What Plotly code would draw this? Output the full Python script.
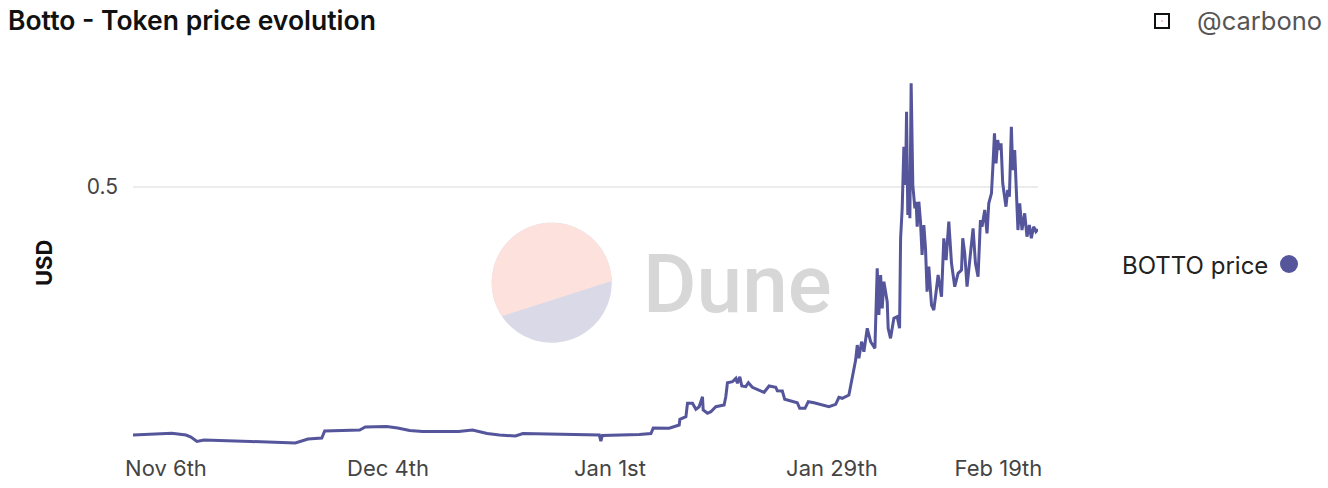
import numpy as np
import pandas as pd
import plotly.graph_objects as go

# ---------------- data ----------------
base_date = "2021-11-01"
day_offsets = [
    0.84, 3.46, 5.73, 7.52, 8.15, 8.90, 9.79, 15.68, 19.29, 21.32, 22.91, 24.65, 25.02,
    28.30, 29.43, 30.14, 32.83, 34.22, 35.73, 37.37, 41.90, 43.66, 45.51, 47.06, 49.08,
    50.02, 55.38, 59.66, 59.85, 60.04, 64.70, 66.17, 66.46,
    68.47, 69.73, 69.82, 70.58, 70.78, 71.41, 71.84, 72.25, 72.67, 72.76, 73.30, 73.73,
    74.35, 75.40, 75.61, 75.82, 76.45, 76.88, 77.08, 77.38, 77.63, 78.13, 78.46, 78.96,
    80.44, 81.07, 81.91, 82.11, 82.74, 83.04, 84.63, 84.93, 85.60, 86.02, 86.74, 88.62,
    89.47, 89.88, 90.30, 91.14,
    91.65, 91.99, 92.19, 92.40, 92.74, 93.03, 93.45, 93.88, 94.42, 94.71, 94.92, 95.14,
    95.34, 95.55, 95.97, 96.09, 96.39, 96.81, 97.23, 97.53, 97.66, 97.86, 98.07, 98.28,
    98.41, 98.57, 98.70, 98.83, 98.99, 99.20, 99.46, 99.62, 99.75, 99.96, 100.17, 100.37,
    100.59, 100.80, 101.00, 101.22, 101.56, 101.85, 102.14, 102.39, 102.82,
    103.11, 103.40, 103.74, 104.08, 104.49, 104.91, 105.34, 105.50, 105.75, 106.04, 106.47,
    106.80, 107.10, 107.43, 107.73, 107.93, 108.27, 108.56, 108.78, 109.12, 109.32, 109.50,
    109.70, 109.91, 110.12, 110.33, 110.54, 110.75, 110.95, 111.17, 111.38, 111.63, 111.80,
    112.05, 112.21, 112.46, 112.68, 112.97, 113.31, 113.60, 113.90, 114.15, 114.44, 114.73,
    114.99,
]
botto_price = [
    0.0618, 0.0641, 0.0648, 0.0618, 0.0583, 0.0504, 0.0530, 0.0504, 0.0495, 0.0477, 0.0548,
    0.0565, 0.0689, 0.0698, 0.0707, 0.0760, 0.0769, 0.0742, 0.0698, 0.0680, 0.0680, 0.0707,
    0.0645, 0.0618, 0.0601, 0.0645, 0.0627, 0.0618, 0.0512, 0.0610, 0.0627, 0.0645, 0.0742,
    0.0737, 0.0795, 0.0896, 0.0942, 0.1178, 0.1178, 0.1072, 0.1118, 0.1295, 0.1060, 0.1002,
    0.1030, 0.1118, 0.1148, 0.1295, 0.1542, 0.1560, 0.1620, 0.1532, 0.1648, 0.1484, 0.1472,
    0.1542, 0.1461, 0.1373, 0.1484, 0.1461, 0.1401, 0.1396, 0.1249, 0.1189, 0.1090, 0.1090,
    0.1207, 0.1189, 0.1118, 0.1161, 0.1284, 0.1267, 0.1325,
    0.1737, 0.1943, 0.2208, 0.1973, 0.2267, 0.2090, 0.2504, 0.2267, 0.2150, 0.3564, 0.2739,
    0.3445, 0.2857, 0.3327, 0.2974, 0.2504, 0.2327, 0.2680, 0.2709, 0.2504, 0.4094, 0.4624,
    0.5712, 0.5035, 0.6330, 0.4505, 0.5212, 0.4447, 0.6832, 0.5035, 0.4624, 0.4740, 0.4299,
    0.4740, 0.4387, 0.3799, 0.4329, 0.3917, 0.3150, 0.3592, 0.2915, 0.2827, 0.3150, 0.3445,
    0.3062,
    0.4094, 0.3710, 0.4387, 0.3652, 0.3239, 0.3475, 0.3534, 0.4094, 0.3829, 0.3239, 0.3829,
    0.4270, 0.3652, 0.3415, 0.4417, 0.4299, 0.4594, 0.4182, 0.4712, 0.4889, 0.5419, 0.5949,
    0.5419, 0.5830, 0.5654, 0.5772, 0.5065, 0.4829, 0.4652, 0.4947, 0.4829, 0.6065, 0.5300,
    0.5654, 0.5005, 0.4240, 0.4712, 0.4240, 0.4535, 0.4122, 0.4329, 0.4094, 0.4299, 0.4210,
    0.4253,
]
tick_dates = ["2021-11-06", "2021-12-04", "2022-01-01", "2022-01-29", "2022-02-19"]
tick_labels = ["Nov 6th", "Dec 4th", "Jan 1st", "Jan 29th", "Feb 19th"]
y_ticks = [0.5]
y_range = [0.0389, 0.7032]
series_name = "BOTTO price"

dates = pd.Timestamp(base_date) + pd.to_timedelta(day_offsets, unit="D")

# ---------------- layout geometry (page pixel frame) ----------------
W, H = 1328, 488
X0, X1, Y0, Y1 = 133, 1038, 72, 448     # plot area in page pixels
PW, PH = X1 - X0, Y1 - Y0
L, R, T, B = X0, W - X1, Y0, H - Y1
LINE = "#55559b"
FONT = "Inter"


def px(x):
    return (x - X0) / PW


def py(y):
    return (Y1 - y) / PH


fig = go.Figure()
fig.add_trace(go.Scatter(
    x=dates, y=botto_price, mode="lines", name=series_name,
    line=dict(color=LINE, width=3), showlegend=False,
))

shapes = []
# Dune watermark (circle split in two)
cx, cy, r = 551.7, 282.7, 60.0
th = np.linspace(0, 2 * np.pi, 120)
circ = "M " + " L ".join(f"{px(cx + r*np.cos(t)):.5f},{py(cy - r*np.sin(t)):.5f}" for t in th) + " Z"
shapes.append(dict(type="path", xref="paper", yref="paper", path=circ,
                   fillcolor="#d9d9e8", line=dict(width=0), layer="below"))
a0, a1 = np.deg2rad(1.6), np.deg2rad(214)
th2 = np.linspace(a0, a1, 100)
pink = "M " + " L ".join(f"{px(cx + r*np.cos(t)):.5f},{py(cy - r*np.sin(t)):.5f}" for t in th2) + " Z"
shapes.append(dict(type="path", xref="paper", yref="paper", path=pink,
                   fillcolor="#fde1dc", line=dict(width=0), layer="below"))
# small square icon near the author handle
shapes.append(dict(type="rect", xref="paper", yref="paper",
                   x0=px(1155), x1=px(1169), y0=py(28), y1=py(14),
                   line=dict(color="#111", width=2), fillcolor="rgba(0,0,0,0)"))
shapes.append(dict(type="rect", xref="paper", yref="paper",
                   x0=px(1161.5), x1=px(1162.5), y0=py(21.5), y1=py(20.5),
                   line=dict(width=0), fillcolor="#e02020"))
# legend marker (circle to the right of the label)
shapes.append(dict(type="circle", xref="paper", yref="paper",
                   x0=px(1280), x1=px(1298), y0=py(273), y1=py(255),
                   line=dict(width=0), fillcolor=LINE))

annotations = [
    dict(text="Dune", xref="paper", yref="paper", x=px(641), y=py(284),
         xanchor="left", yanchor="middle", showarrow=False,
         font=dict(family="Roboto", size=82, color="#d7d7d7", weight=500)),
    dict(text="@carbono", xref="paper", yref="paper", x=px(1324), y=py(21),
         xanchor="right", yanchor="middle", showarrow=False,
         font=dict(family=FONT, size=25.5, color="#555555")),
    dict(text=series_name, xref="paper", yref="paper", x=px(1270), y=py(265),
         xanchor="right", yanchor="middle", showarrow=False,
         font=dict(family=FONT, size=24, color="#222222")),
    dict(text="USD", xref="paper", yref="paper", x=px(44), y=py(263),
         xanchor="center", yanchor="middle", showarrow=False, textangle=-90,
         font=dict(family=FONT, size=22, color="#111111", weight="bold")),
]

fig.update_layout(
    width=W, height=H,
    margin=dict(l=L, r=R, t=T, b=B, pad=0),
    paper_bgcolor="white", plot_bgcolor="white",
    title=dict(text="Botto - Token price evolution", xref="container", yref="container",
               x=8 / W, y=1 - 21 / H, xanchor="left", yanchor="middle",
               font=dict(family=FONT, size=26.5, color="#111111", weight=600)),
    shapes=shapes, annotations=annotations,
    xaxis=dict(type="date", range=[dates.min(), dates.max()],
               tickvals=pd.to_datetime(tick_dates), ticktext=tick_labels,
               showgrid=False, zeroline=False, showline=False, ticks="",
               ticklabelstandoff=5, automargin=False,
               tickfont=dict(family=FONT, size=22, color="#444444")),
    yaxis=dict(range=y_range, tickvals=y_ticks, ticktext=["0.5"],
               showgrid=True, gridcolor="#ececec", gridwidth=1.5,
               zeroline=False, showline=False, ticks="", ticklabelstandoff=14,
               automargin=False,
               tickfont=dict(family=FONT, size=21, color="#444444")),
)

fig.write_html(
    "out.html",
    config={"displayModeBar": False},
    post_script="document.body.style.margin='0px';document.body.style.overflow='hidden';",
)
